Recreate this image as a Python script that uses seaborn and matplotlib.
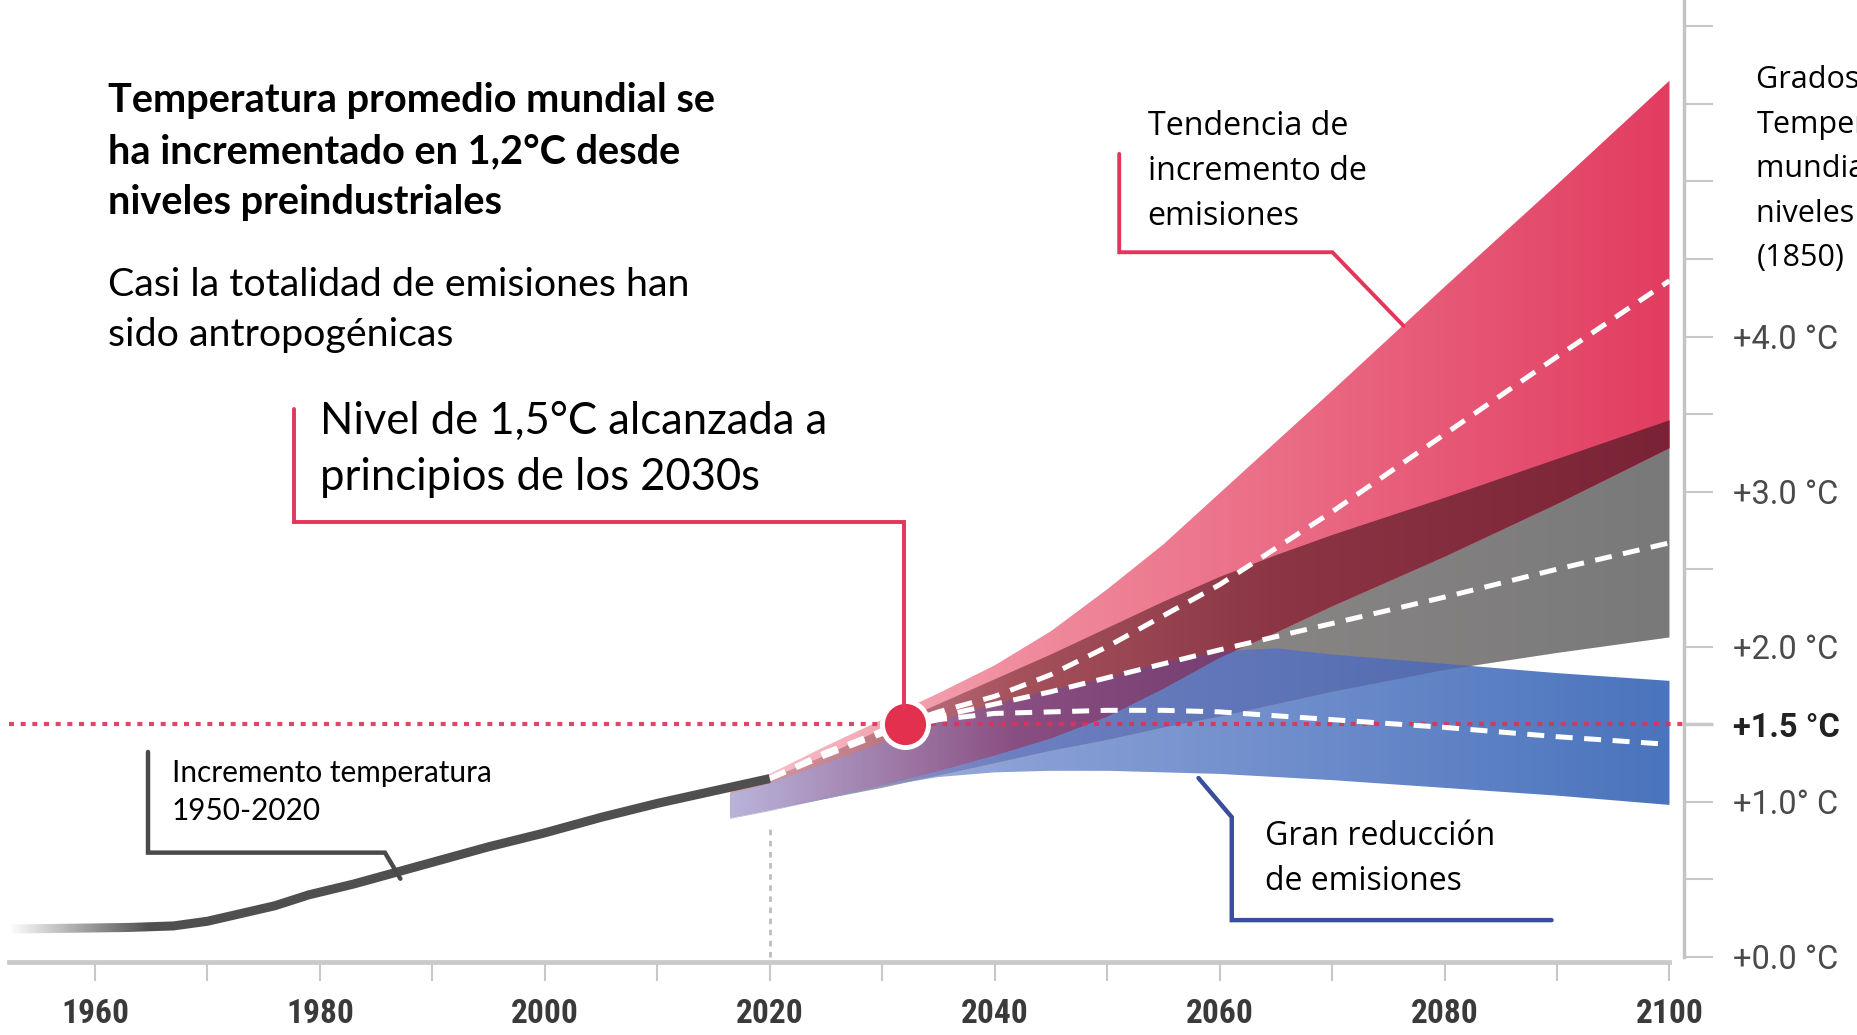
"""
Proyecciones de temperatura media mundial (escenarios de emisiones)
Recreación del gráfico con bandas de escenarios y serie histórica
"""
import numpy as np
import matplotlib
matplotlib.use("Agg")
import matplotlib.pyplot as plt
import seaborn as sns
from matplotlib.colors import LinearSegmentedColormap
from matplotlib.path import Path
from matplotlib.patches import PathPatch
from matplotlib.lines import Line2D

# serie histórica 1950-2020 (°C sobre 1850)
hist_years = [1952.6, 1958, 1963, 1967, 1970, 1973, 1976, 1979, 1983, 1987, 1991, 1995,
              2000, 2005, 2010, 2015, 2020]
hist_temp = [0.18, 0.185, 0.19, 0.20, 0.23, 0.28, 0.33, 0.40, 0.47, 0.55, 0.63, 0.71,
             0.80, 0.90, 0.99, 1.07, 1.15]

# bandas de escenarios
proj_years = [2016.5, 2020, 2025, 2030, 2035, 2040, 2045, 2050, 2055, 2060, 2065, 2070, 2080, 2090, 2100]
high_top = [1.08, 1.18, 1.36, 1.53, 1.70, 1.88, 2.10, 2.37, 2.66, 2.99, 3.32, 3.65, 4.32, 4.98, 5.65]
high_low = [0.90, 0.95, 1.03, 1.11, 1.20, 1.30, 1.41, 1.55, 1.73, 1.93, 2.09, 2.26, 2.58, 2.92, 3.28]
mid_top = [1.06, 1.15, 1.30, 1.47, 1.63, 1.79, 1.95, 2.12, 2.29, 2.45, 2.59, 2.72, 2.96, 3.21, 3.46]
mid_low = [0.90, 0.95, 1.02, 1.09, 1.17, 1.25, 1.33, 1.40, 1.48, 1.55, 1.63, 1.71, 1.85, 1.96, 2.06]
low_top = [1.05, 1.12, 1.25, 1.38, 1.52, 1.63, 1.72, 1.80, 1.90, 1.97, 1.99, 1.95, 1.89, 1.83, 1.78]
low_low = [0.89, 0.94, 1.02, 1.10, 1.16, 1.19, 1.20, 1.20, 1.19, 1.18, 1.16, 1.14, 1.09, 1.04, 0.98]

# medianas (líneas discontinuas blancas)
med_years = [2020, 2025, 2030, 2035, 2040, 2045, 2050, 2055, 2060, 2070, 2080, 2090, 2100]
med_high = [1.15, 1.31, 1.46, 1.58, 1.68, 1.82, 2.00, 2.20, 2.40, 2.87, 3.37, 3.87, 4.36]
med_mid = [1.15, 1.30, 1.44, 1.55, 1.63, 1.71, 1.80, 1.89, 1.98, 2.15, 2.32, 2.50, 2.67]
med_low = [1.15, 1.32, 1.45, 1.53, 1.57, 1.58, 1.59, 1.59, 1.58, 1.53, 1.48, 1.42, 1.37]

target = 1.5
cross_year = [2032]
cross_temp = [1.5]
now_year = 2020

xticks = list(range(1960, 2101, 10))
xlabels = [str(y) if y % 20 == 0 else "" for y in xticks]
yticks = [i * 0.5 for i in range(13)]
ylabel_map = {0.0: "+0.0 °C", 1.0: "+1.0° C", 1.5: "+1.5 °C", 2.0: "+2.0 °C", 3.0: "+3.0 °C", 4.0: "+4.0 °C"}

sns.set_theme(style="white")
plt.rcParams["font.family"] = ["Lato", "DejaVu Sans"]
plt.rcParams["text.color"] = "black"

fig = plt.figure(figsize=(18.57, 10.35), dpi=100)
ax = fig.add_axes([8 / 1568, 62 / 874, 1414 / 1568, 812 / 874])
X0, X1 = 1952.4, 2101.3
Y0, Y1 = -0.03, 6.17


def grad_band(lo, hi, colors, z):
    x = np.asarray(proj_years, float)
    lo = np.asarray(lo, float)
    hi = np.asarray(hi, float)
    coll = ax.fill_between(x, lo, hi, where=hi > lo, interpolate=True,
                           facecolor="none", edgecolor="none", lw=0)
    paths = coll.get_paths()
    coll.remove()
    if not paths:
        return
    patch = PathPatch(Path.make_compound_path(*paths), transform=ax.transData)
    cmap = LinearSegmentedColormap.from_list("g", colors)
    im = ax.imshow(np.linspace(0, 1, 256)[None, :], cmap=cmap, aspect="auto",
                   extent=(x[0], x[-1], Y0, Y1), origin="lower", zorder=z,
                   interpolation="bilinear")
    im.set_clip_path(patch)


ht, hl = np.array(high_top), np.array(high_low)
mt, ml = np.array(mid_top), np.array(mid_low)
lt, ll = np.array(low_top), np.array(low_low)

# bandas individuales
grad_band(ll, lt, [(0, "#c3c3e3"), (0.3, "#8aa0d6"), (1, "#4a74bd")], 2)
grad_band(ml, mt, [(0, "#b0a9b0"), (0.4, "#8d8989"), (1, "#7a7979")], 2)
grad_band(hl, ht, [(0, "#f7c4cb"), (0.3, "#f08d9f"), (1, "#e23d61")], 2)
# solapes
grad_band(np.maximum(ml, ll), np.minimum(mt, lt),
          [(0, "#a7a4d2"), (0.3, "#6d7fc0"), (1, "#4764a8")], 3)
grad_band(np.maximum(hl, ml), np.minimum(ht, mt),
          [(0, "#d9a0ab"), (0.3, "#a5525d"), (0.6, "#8a3444"), (1, "#7a2336")], 3)
grad_band(np.maximum(hl, ll), np.minimum(ht, lt),
          [(0, "#c4a0c8"), (0.3, "#8a5590"), (1, "#6e3f80")], 3)
grad_band(np.maximum(np.maximum(hl, ml), ll), np.minimum(np.minimum(ht, mt), lt),
          [(0, "#b9b3d9"), (0.3, "#8a4f82"), (0.6, "#70396c"), (1, "#62305e")], 4)

# nivel 1,5 °C
ax.axhline(target, color="#dc3358", lw=3, ls=(0, (1.2, 1.6)), zorder=5, alpha=0.9)
ax.vlines(now_year, 0, low_low[0] - 0.05, color="#bdbdbd", lw=2, ls=(0, (2, 2)), zorder=1)

# medianas
for med in (med_high, med_mid, med_low):
    sns.lineplot(x=med_years, y=med, ax=ax, color="white", lw=3.6,
                 linestyle=(0, (3.4, 2.3)), zorder=6)

# serie histórica
sns.lineplot(x=hist_years, y=hist_temp, ax=ax, color="#4f4f4f", lw=6.5,
             solid_capstyle="butt", solid_joinstyle="round", zorder=7)
fade = np.ones((1, 64, 4))
fade[0, :, 3] = np.linspace(1, 0, 64)
ax.imshow(fade, aspect="auto", extent=(X0, 1965, 0.02, 0.45), zorder=7.5)

sns.scatterplot(x=cross_year, y=cross_temp, ax=ax, s=1100, color="#e3304f",
                edgecolor="white", linewidth=3.5, zorder=8)

# ejes
ax.set_xlim(X0, X1)
ax.set_ylim(Y0, Y1)
for s in ("top", "left"):
    ax.spines[s].set_visible(False)
ax.spines["bottom"].set_color("#c9c9c9")
ax.spines["bottom"].set_linewidth(3.4)
ax.spines["bottom"].set_bounds(X0, 2100)
ax.spines["right"].set_color("#c4c4c4")
ax.spines["right"].set_linewidth(2.5)
ax.spines["right"].set_bounds(0, Y1)

ax.set_xticks(xticks)
ax.set_xticklabels(xlabels)
ax.tick_params(axis="x", bottom=True, length=14, width=1.5, color="#c8c8c8", pad=12,
               labelsize=24, labelcolor="#3a3a3a")
for t in ax.get_xticklabels():
    t.set_fontweight("bold")
    t.set_fontstretch("condensed")
    t.set_family(["Liberation Sans Narrow", "Roboto Condensed", "DejaVu Sans"])

ax.yaxis.tick_right()
ax.set_yticks(yticks)
ax.set_yticklabels([ylabel_map.get(v, "") for v in yticks])
ax.tick_params(axis="y", right=True, length=21, width=1.5, color="#c8c8c8", pad=14,
               labelsize=23.5, labelcolor="#4a4a4a")
for v, t, tk in zip(yticks, ax.get_yticklabels(), ax.yaxis.get_major_ticks()):
    t.set_family(["Roboto", "DejaVu Sans"])
    if v == target:
        t.set_fontweight("bold")
        t.set_color("#222222")
        tk.tick2line.set_color("#e0405f")
        tk.tick2line.set_markeredgewidth(2.5)
ax.set_xlabel("")
ax.set_ylabel("")
ax.grid(False)

# textos
fig.text(91 / 1568, 0.9205,
         "Temperatura promedio mundial se\nha incrementado en 1,2°C desde\nniveles preindustriales",
         fontsize=28.6, fontweight="bold", va="top", ha="left", linespacing=1.47)
fig.text(91 / 1568, 0.742, "Casi la totalidad de emisiones han\nsido antropogénicas",
         fontsize=28.4, va="top", ha="left", linespacing=1.47)
fig.text(270 / 1568, 0.613, "Nivel de 1,5°C alcanzada a\nprincipios de los 2030s",
         fontsize=31.4, va="top", ha="left", linespacing=1.48)
fig.text(145 / 1568, 0.2665, "Incremento temperatura\n1950-2020",
         fontsize=21.4, va="top", ha="left", linespacing=1.43)
fig.text(969 / 1568, 0.894, "Tendencia de\nincremento de\nemisiones",
         fontsize=23.2, va="top", ha="left", linespacing=1.48, family=["Open Sans", "DejaVu Sans"])
fig.text(1068 / 1568, 0.2078, "Gran reducción\nde emisiones",
         fontsize=23, va="top", ha="left", linespacing=1.5, family=["Open Sans", "DejaVu Sans"])
fig.text(1483 / 1568, 0.937, "Grados de\nTemperatura\nmundial sobre\nniveles preindustriales\n(1850)",
         fontsize=22, va="top", ha="left", linespacing=1.63, family=["Open Sans", "DejaVu Sans"])

# líneas guía (coordenadas de figura)
leaders = [
    ([0.1582, 0.1582, 0.4866, 0.4866], [0.6053, 0.4954, 0.4954, 0.3158], "#e2365a", 2.8),
    ([0.6027, 0.6027, 0.7175, 0.7557], [0.8513, 0.7563, 0.7563, 0.6854], "#e2365a", 2.8),
    ([0.0797, 0.0797, 0.2073, 0.2156], [0.2735, 0.1762, 0.1762, 0.1510], "#4a4a4a", 3.2),
    ([0.6454, 0.6633, 0.6633, 0.8355], [0.2483, 0.2105, 0.1110, 0.1110], "#3b4d9e", 3.2),
]
for xs, ys, c, w in leaders:
    fig.add_artist(Line2D(xs, ys, transform=fig.transFigure, color=c, lw=w,
                          solid_joinstyle="miter", zorder=9))

fig.savefig("out.png", dpi=100, facecolor="white")
